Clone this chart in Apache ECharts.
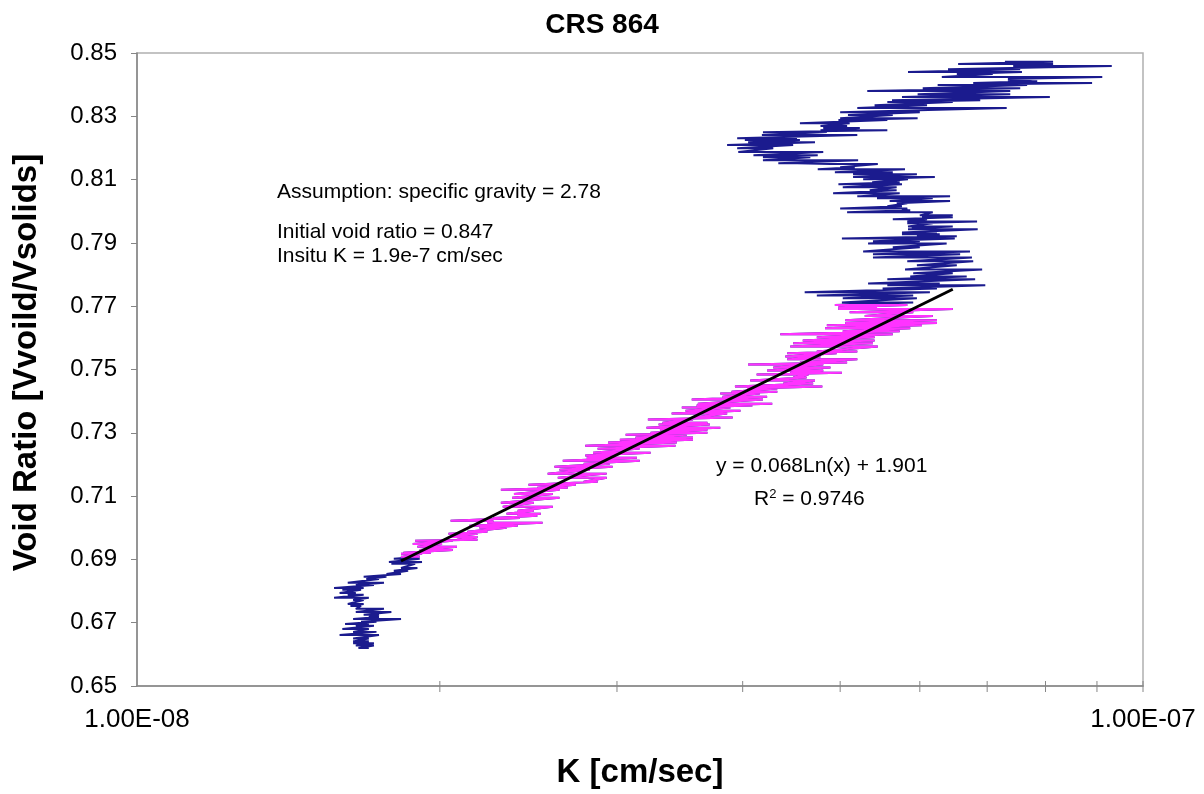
<!DOCTYPE html>
<html>
<head>
<meta charset="utf-8">
<title>CRS 864</title>
<script src="https://cdn.jsdelivr.net/npm/echarts@6/dist/echarts.min.js"></script>
<style>
  html, body { margin: 0; padding: 0; background: #ffffff; }
  #chart { width: 1204px; height: 794px; }
</style>
</head>
<body>
<div id="chart"></div>
<script>
// Hydraulic conductivity K is stored in units of 1e-8 cm/sec.
const K_UNIT = 1e-8;

// Each reading row: [void ratio, K low swing, K high swing] — the trace zigzags between the two.
// Upper part of the test (start of loading, e = 0.847 down to ~0.771)
const upperRows = [
  [0.8472, 7.29, 8.14], [0.8465, 6.55, 8.14], [0.8459, 7.43, 9.31], [0.8449, 6.40, 7.55],
  [0.8440, 5.84, 7.58], [0.8434, 6.53, 7.09], [0.8424, 6.31, 9.11], [0.8418, 7.34, 7.77],
  [0.8411, 7.34, 7.85], [0.8405, 6.78, 8.90], [0.8399, 6.25, 7.67], [0.8389, 6.04, 7.55],
  [0.8380, 5.32, 7.38], [0.8370, 5.97, 7.38], [0.8361, 5.76, 8.08], [0.8351, 5.63, 6.89],
  [0.8345, 5.57, 6.47], [0.8335, 5.41, 6.10], [0.8326, 5.20, 7.32], [0.8313, 5.00, 6.00],
  [0.8304, 5.09, 5.64], [0.8294, 5.00, 5.97], [0.8288, 4.98, 5.57], [0.8278, 4.56, 5.11],
  [0.8269, 4.78, 5.08], [0.8263, 4.81, 5.23], [0.8256, 4.78, 5.57], [0.8250, 4.19, 4.85],
  [0.8241, 4.18, 5.20], [0.8231, 3.95, 4.53], [0.8225, 4.02, 4.56], [0.8218, 4.05, 4.72],
  [0.8209, 3.86, 4.49], [0.8199, 3.95, 4.29], [0.8187, 3.96, 4.81], [0.8177, 4.10, 4.75],
  [0.8171, 4.19, 4.67], [0.8161, 4.19, 5.21], [0.8152, 4.34, 4.53], [0.8149, 4.89, 5.45],
  [0.8139, 5.00, 5.17], [0.8133, 4.75, 5.80], [0.8123, 4.94, 5.64], [0.8117, 5.15, 5.96],
  [0.8108, 5.15, 6.21], [0.8101, 5.27, 5.84], [0.8092, 5.38, 5.73], [0.8085, 4.98, 5.76],
  [0.8076, 5.03, 5.69], [0.8066, 5.35, 5.69], [0.8057, 4.92, 5.73], [0.8047, 5.20, 6.43],
  [0.8041, 5.44, 6.18], [0.8032, 5.60, 6.43], [0.8025, 5.69, 5.83], [0.8016, 5.57, 5.76],
  [0.8009, 5.00, 5.83], [0.8003, 5.76, 5.87], [0.7997, 5.08, 6.18], [0.7987, 6.00, 6.47],
  [0.7981, 6.03, 6.47], [0.7975, 5.64, 6.10], [0.7968, 5.83, 6.84], [0.7962, 5.83, 6.18],
  [0.7952, 5.84, 6.47], [0.7946, 5.89, 6.24], [0.7943, 5.84, 6.85], [0.7933, 5.76, 6.24],
  [0.7927, 5.76, 6.28], [0.7921, 5.96, 6.53], [0.7914, 5.02, 6.50], [0.7905, 5.39, 6.00],
  [0.7898, 5.33, 6.38], [0.7886, 5.64, 6.00], [0.7873, 5.27, 6.73], [0.7864, 5.39, 6.58],
  [0.7854, 5.39, 6.76], [0.7842, 5.83, 6.78], [0.7829, 5.96, 6.53], [0.7816, 5.80, 6.92],
  [0.7804, 5.91, 6.47], [0.7794, 5.87, 6.68], [0.7785, 5.57, 6.81], [0.7772, 5.33, 6.28],
  [0.7766, 5.57, 6.97], [0.7756, 5.51, 6.24], [0.7744, 4.61, 6.14], [0.7734, 4.74, 5.91],
  [0.7725, 5.03, 5.96], [0.7712, 5.02, 5.91]
];

// Section used for the logarithmic fit (e ~ 0.770 down to ~0.691)
const fitRows = [
  [0.7704, 4.94, 5.83], [0.7697, 4.98, 5.44], [0.7691, 4.98, 6.47], [0.7681, 5.11, 5.91],
  [0.7669, 5.29, 6.18], [0.7656, 5.06, 6.24], [0.7647, 5.06, 6.24], [0.7640, 4.85, 6.03],
  [0.7630, 4.83, 5.87], [0.7621, 5.03, 5.73], [0.7611, 4.36, 5.64], [0.7602, 4.74, 5.41],
  [0.7592, 4.59, 5.41], [0.7583, 4.49, 5.39], [0.7573, 4.46, 5.45], [0.7557, 4.74, 5.20],
  [0.7551, 4.43, 4.96], [0.7541, 4.41, 4.78], [0.7532, 4.43, 5.20], [0.7522, 4.56, 5.08],
  [0.7516, 4.05, 4.81], [0.7506, 4.29, 4.89], [0.7497, 4.23, 4.81], [0.7490, 4.46, 5.02],
  [0.7484, 4.13, 4.65], [0.7475, 4.49, 4.63], [0.7465, 4.07, 4.72], [0.7456, 4.39, 4.70],
  [0.7446, 3.93, 4.80], [0.7440, 4.04, 4.33], [0.7430, 3.90, 4.33], [0.7424, 3.80, 4.16],
  [0.7414, 3.82, 4.23], [0.7405, 3.56, 4.19], [0.7392, 3.61, 4.28], [0.7386, 3.60, 4.09],
  [0.7380, 3.48, 3.89], [0.7370, 3.51, 3.98], [0.7361, 3.40, 3.86], [0.7348, 3.57, 3.91],
  [0.7342, 3.22, 3.57], [0.7332, 3.33, 3.69], [0.7326, 3.30, 3.71], [0.7316, 3.21, 3.80],
  [0.7310, 3.31, 3.69], [0.7300, 3.24, 3.69], [0.7294, 3.06, 3.52], [0.7285, 3.13, 3.57],
  [0.7278, 3.02, 3.57], [0.7269, 2.94, 3.44], [0.7259, 2.79, 3.43], [0.7250, 2.87, 3.16],
  [0.7237, 2.84, 3.24], [0.7228, 2.79, 2.97], [0.7221, 2.80, 3.14], [0.7212, 2.65, 3.16],
  [0.7202, 2.78, 2.95], [0.7193, 2.60, 2.97], [0.7183, 2.63, 2.82], [0.7171, 2.56, 2.93],
  [0.7158, 2.62, 2.93], [0.7145, 2.78, 2.87], [0.7136, 2.45, 2.73], [0.7126, 2.50, 2.68],
  [0.7120, 2.30, 2.63], [0.7107, 2.37, 2.59], [0.7095, 2.36, 2.63], [0.7079, 2.30, 2.48],
  [0.7066, 2.31, 2.59], [0.7054, 2.39, 2.48], [0.7044, 2.33, 2.52], [0.7038, 2.39, 2.50],
  [0.7031, 2.26, 2.40], [0.7022, 2.05, 2.26], [0.7016, 2.23, 2.53], [0.7006, 2.14, 2.39],
  [0.7000, 2.19, 2.33], [0.6987, 2.13, 2.23], [0.6981, 2.04, 2.18], [0.6971, 2.05, 2.18],
  [0.6962, 2.08, 2.18], [0.6959, 1.89, 2.06], [0.6949, 1.88, 2.01], [0.6940, 1.90, 2.08],
  [0.6930, 1.91, 2.06], [0.6921, 1.84, 1.96], [0.6918, 1.83, 1.92], [0.6908, 1.83, 1.91]
];

// End of the test (e below ~0.690)
const lowerRows = [
  [0.6902, 1.80, 1.91], [0.6892, 1.78, 1.92], [0.6886, 1.79, 1.89], [0.6873, 1.83, 1.90],
  [0.6864, 1.80, 1.86], [0.6854, 1.77, 1.83], [0.6845, 1.68, 1.77], [0.6838, 1.69, 1.74],
  [0.6826, 1.62, 1.76], [0.6819, 1.65, 1.72], [0.6810, 1.57, 1.68], [0.6804, 1.60, 1.67],
  [0.6794, 1.59, 1.65], [0.6788, 1.62, 1.68], [0.6779, 1.57, 1.70], [0.6772, 1.64, 1.68],
  [0.6759, 1.62, 1.68], [0.6753, 1.63, 1.67], [0.6744, 1.65, 1.76], [0.6734, 1.65, 1.79],
  [0.6725, 1.68, 1.74], [0.6718, 1.70, 1.74], [0.6712, 1.64, 1.83], [0.6703, 1.67, 1.73],
  [0.6696, 1.61, 1.70], [0.6690, 1.65, 1.72], [0.6680, 1.60, 1.70], [0.6671, 1.64, 1.73],
  [0.6661, 1.59, 1.74], [0.6650, 1.64, 1.70], [0.6641, 1.64, 1.70], [0.6635, 1.64, 1.72],
  [0.6628, 1.65, 1.72], [0.6620, 1.66, 1.70]
];

// Logarithmic trendline y = a ln(x) + b over the fitted K range
const fitA = 0.068;
const fitB = 1.901;
const fitKRange = [1.83, 6.47];

// Axis ranges and the log-axis minor tick positions (x 1e-8)
const kRange = [1, 10];
const eRange = [0.65, 0.85];
const eStep = 0.02;
const logMinorTicks = [2, 3, 4, 5, 6, 7, 8, 9, 10];

const FONT = '"Liberation Sans", Arial, Helvetica, sans-serif';

function rowsToPoints(rows) {
  const pts = [];
  rows.forEach(function (r) {
    pts.push([r[1] * K_UNIT, r[0]]);
    pts.push([r[2] * K_UNIT, r[0]]);
  });
  return pts;
}

const upperPts = rowsToPoints(upperRows);
const fitPts = rowsToPoints(fitRows);
const lowerPts = rowsToPoints(lowerRows);
const allPts = upperPts.concat(fitPts, lowerPts);

const trendPts = fitKRange.map(function (k) {
  const x = k * K_UNIT;
  return [x, fitA * Math.log(x) + fitB];
});

function sciLabel(v) {
  // 1.00E-08 style
  const s = v.toExponential(2).toUpperCase();
  return s.replace(/E([+-])(\d)$/, 'E$10$2');
}

const chart = echarts.init(document.getElementById('chart'), null, { renderer: 'canvas' });

chart.setOption({
  animation: false,
  backgroundColor: '#ffffff',
  textStyle: { fontFamily: FONT },
  title: {
    text: 'CRS 864',
    left: 'center',
    top: 6,
    textStyle: { fontFamily: FONT, fontWeight: 'bold', fontSize: 28, color: '#000' }
  },
  grid: {
    left: 137, right: 61, top: 53, bottom: 108,
    outerBoundsMode: 'none',
    containLabel: false,
    show: true,
    borderColor: '#b0b0b0',
    borderWidth: 1.5,
    backgroundColor: '#ffffff'
  },
  xAxis: {
    type: 'log',
    logBase: 10,
    min: kRange[0] * K_UNIT,
    max: kRange[1] * K_UNIT,
    name: 'K [cm/sec]',
    nameLocation: 'middle',
    nameGap: 70,
    nameTextStyle: { fontFamily: FONT, fontWeight: 'bold', fontSize: 33, color: '#000' },
    axisLine: { show: true, lineStyle: { color: '#868686', width: 1.5 } },
    axisTick: { show: false },
    splitLine: { show: false },
    axisLabel: {
      margin: 21,
      fontSize: 26,
      color: '#000',
      fontFamily: FONT,
      formatter: function (v) { return sciLabel(v); }
    }
  },
  yAxis: {
    type: 'value',
    min: eRange[0],
    max: eRange[1],
    interval: eStep,
    name: 'Void Ratio [Vvoild/Vsolids]',
    nameLocation: 'middle',
    nameGap: 94,
    nameRotate: 90,
    nameTextStyle: {
      fontFamily: FONT, fontWeight: 'bold', fontSize: 33, color: '#000',
      padding: [0, 0, 0, 14]
    },
    axisLine: { show: true, lineStyle: { color: '#868686', width: 1.5 } },
    axisTick: { show: true, length: 6, lineStyle: { color: '#868686', width: 1 } },
    splitLine: { show: false },
    axisLabel: {
      margin: 20,
      fontSize: 24,
      color: '#000',
      fontFamily: FONT,
      formatter: function (v) { return v.toFixed(2); }
    }
  },
  series: [
    {
      name: 'All readings',
      type: 'line',
      data: allPts,
      showSymbol: false,
      symbol: 'none',
      lineStyle: { color: '#1b1b8e', width: 2 },
      z: 2
    },
    {
      name: 'Fitted range',
      type: 'line',
      data: fitPts,
      showSymbol: false,
      symbol: 'none',
      lineStyle: { color: '#ff33ff', width: 2 },
      z: 3
    },
    {
      name: 'Log trendline',
      type: 'line',
      data: trendPts,
      showSymbol: false,
      symbol: 'none',
      lineStyle: { color: '#000000', width: 3 },
      z: 4
    },
    {
      name: 'Minor ticks',
      type: 'custom',
      data: logMinorTicks.map(function (k) { return [k * K_UNIT, eRange[0]]; }),
      clip: false,
      silent: true,
      z: 5,
      renderItem: function (params, api) {
        const p = api.coord([api.value(0), api.value(1)]);
        return {
          type: 'line',
          shape: { x1: p[0], y1: p[1] - 5, x2: p[0], y2: p[1] + 6 },
          style: { stroke: '#868686', lineWidth: 1 }
        };
      }
    }
  ],
  graphic: [
    {
      type: 'text', x: 277, y: 192,
      style: { text: 'Assumption: specific gravity = 2.78', font: '21px ' + FONT, fill: '#000', verticalAlign: 'middle' }
    },
    {
      type: 'text', x: 277, y: 232,
      style: { text: 'Initial void ratio = 0.847', font: '21px ' + FONT, fill: '#000', verticalAlign: 'middle' }
    },
    {
      type: 'text', x: 277, y: 256,
      style: { text: 'Insitu K = 1.9e-7 cm/sec', font: '21px ' + FONT, fill: '#000', verticalAlign: 'middle' }
    },
    {
      type: 'text', x: 716, y: 466,
      style: { text: 'y = 0.068Ln(x) + 1.901', font: '21px ' + FONT, fill: '#000', verticalAlign: 'middle' }
    },
    {
      type: 'text', x: 754, y: 499,
      style: {
        text: 'R{sup|2} = 0.9746',
        font: '21px ' + FONT,
        fill: '#000',
        verticalAlign: 'middle',
        rich: { sup: { fontSize: 13, fontFamily: FONT, verticalAlign: 'top', padding: [0, 0, 10, 0] } }
      }
    }
  ]
});
</script>
</body>
</html>
